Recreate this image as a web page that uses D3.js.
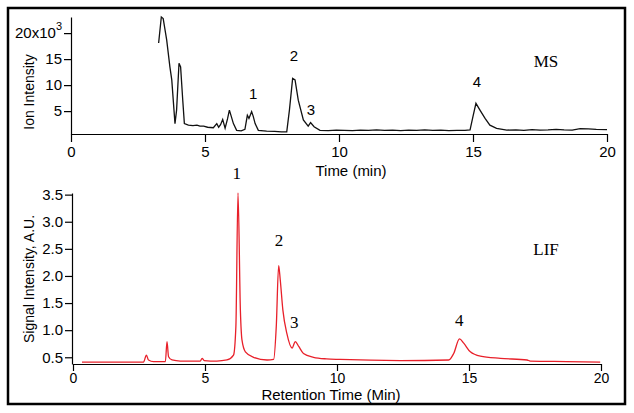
<!DOCTYPE html>
<html>
<head>
<meta charset="utf-8">
<script src="https://cdn.jsdelivr.net/npm/d3@7"></script>
<style>
  body { margin: 0; background: #fff; }
  svg { display: block; }
</style>
</head>
<body>
<svg id="chart" width="634" height="413"></svg>
<script>
// MS trace (time in min, ion intensity in thousands)
const msTime = [3.27, 3.37, 3.44, 3.57, 3.69, 3.76, 3.88, 3.94, 4.03, 4.09, 4.17, 4.23, 4.38, 4.55, 4.7, 4.81, 4.95, 5.1, 5.31,
  5.44, 5.51, 5.58, 5.66, 5.75, 5.84, 5.91, 5.98, 6.06, 6.18, 6.35, 6.49, 6.58, 6.64, 6.74, 6.8, 6.87, 6.99, 7.3, 7.6, 7.85,
  8.05, 8.15, 8.27, 8.36, 8.48, 8.67, 8.85, 8.94, 9.07, 9.29, 9.6, 9.9, 10.2, 10.5, 10.8, 11.1, 11.4, 11.7, 12.0, 12.3, 12.6,
  12.9, 13.2, 13.5, 13.8, 14.1, 14.4, 14.7, 14.89, 15.0, 15.11, 15.26, 15.45, 15.63, 15.88, 16.26, 16.6, 16.9, 17.2, 17.5,
  17.8, 18.1, 18.4, 18.7, 19.0, 19.3, 19.6, 20.0];
const msSignal = [18.1, 23.1, 22.8, 18.7, 13.5, 11.0, 2.6, 5.2, 14.2, 13.5, 7.1, 2.6, 2.3, 2.2, 2.3, 2.1, 2.1, 1.9, 1.8,
  2.6, 1.9, 2.4, 3.4, 1.7, 3.5, 5.2, 4.0, 2.6, 1.3, 1.2, 1.5, 4.2, 3.6, 4.9, 4.0, 2.6, 1.3, 1.15, 1.1, 1.0,
  1.0, 5.2, 11.3, 11.0, 7.1, 3.3, 2.1, 2.8, 2.0, 1.3, 1.25, 1.35, 1.3, 1.25, 1.35, 1.3, 1.4, 1.3, 1.35, 1.25, 1.35,
  1.3, 1.4, 1.3, 1.35, 1.25, 1.3, 1.3, 1.4, 4.0, 6.5, 5.2, 3.6, 2.3, 1.7, 1.35, 1.4, 1.3, 1.45, 1.35,
  1.4, 1.5, 1.4, 1.35, 1.65, 1.6, 1.5, 1.45];

// LIF trace (retention time in min, signal in A.U.)
const lifTime = [0.34, 1.3, 2.67, 2.78, 2.86, 3.05, 3.5, 3.56, 3.62, 3.75, 4.06, 4.82, 4.89, 4.97, 5.45, 5.83, 6.08, 6.17,
  6.25, 6.34, 6.4, 6.53, 6.84, 7.35, 7.6, 7.7, 7.79, 7.85, 7.95, 8.1, 8.3, 8.42, 8.55, 8.73, 9.11, 9.6, 10.12, 12.4,
  14.23, 14.42, 14.64, 14.8, 15.05, 15.43, 16.19, 17.2, 17.32, 18.7, 19.97];
const lifSignal = [0.41, 0.41, 0.41, 0.54, 0.45, 0.42, 0.42, 0.79, 0.51, 0.45, 0.43, 0.43, 0.48, 0.44, 0.43, 0.45, 0.54, 1.07,
  3.53, 1.37, 0.82, 0.6, 0.5, 0.45, 0.46, 1.07, 2.19, 1.93, 1.37, 0.94, 0.67, 0.79, 0.7, 0.57, 0.5, 0.47, 0.46, 0.44,
  0.45, 0.57, 0.84, 0.76, 0.6, 0.52, 0.48, 0.45, 0.43, 0.42, 0.41];

const xTicks = [0, 5, 10, 15, 20];
const msYTicks = [5, 10, 15, 20];
const lifYTicks = [0.5, 1.0, 1.5, 2.0, 2.5, 3.0, 3.5];

// peak labels: [name, time, value]
const msPeaks = [["1", 6.8, 7.3], ["2", 8.32, 14.6], ["3", 8.95, 4.3], ["4", 15.15, 9.7]];
const lifPeaks = [["1", 6.2, 3.78], ["2", 7.8, 2.55], ["3", 8.38, 1.04], ["4", 14.63, 1.08]];

const sans = "'Liberation Sans', Arial, sans-serif";
const serif = "'Liberation Serif', 'Times New Roman', serif";

const svg = d3.select("#chart");

svg.append("rect")
  .attr("x", 8).attr("y", 8)
  .attr("width", 617).attr("height", 396)
  .attr("fill", "none").attr("stroke", "#000").attr("stroke-width", 2.5);

// ---------- top panel (MS) ----------
const x1 = d3.scaleLinear().domain([0, 20]).range([71, 607]);
const y1 = d3.scaleLinear().domain([0.6, 23.1]).range([134, 17]);

let gx1 = svg.append("g")
  .attr("transform", "translate(0,134)")
  .call(d3.axisBottom(x1).tickValues(xTicks).tickSize(8).tickSizeOuter(0).tickPadding(4).tickFormat(d3.format("d")));

let gy1 = svg.append("g")
  .attr("transform", "translate(71,0)")
  .call(d3.axisLeft(y1).tickValues(msYTicks).tickSize(7).tickSizeOuter(0).tickPadding(2).tickFormat(d3.format("d")));

gy1.selectAll(".tick text").filter(d => d == 20)
  .text("20x10")
  .append("tspan").attr("dy", -8).text("3");

svg.append("path")
  .datum(msTime.map((t, i) => [t, msSignal[i]]))
  .attr("fill", "none")
  .attr("stroke", "#111")
  .attr("stroke-width", 1.3)
  .attr("d", d3.line().x(d => x1(d[0])).y(d => y1(d[1])));

svg.append("text")
  .attr("transform", "translate(34,92) rotate(-90)")
  .attr("text-anchor", "middle")
  .attr("font-family", sans).attr("font-size", 14)
  .text("Ion Intensity");

svg.append("text")
  .attr("x", 351).attr("y", 176)
  .attr("text-anchor", "middle")
  .attr("font-family", sans).attr("font-size", 15)
  .text("Time (min)");

svg.append("text")
  .attr("x", 546).attr("y", 67)
  .attr("text-anchor", "middle")
  .attr("font-family", serif).attr("font-size", 17)
  .text("MS");

svg.selectAll(".mspeak")
  .data(msPeaks)
  .enter().append("text")
  .attr("x", d => x1(d[1]))
  .attr("y", d => y1(d[2]))
  .attr("text-anchor", "middle")
  .attr("font-family", sans).attr("font-size", 15)
  .text(d => d[0]);

// ---------- bottom panel (LIF) ----------
const x2 = d3.scaleLinear().domain([0, 20]).range([73, 601]);
const y2 = d3.scaleLinear().domain([0.376, 3.53]).range([364, 193]);

let gx2 = svg.append("g")
  .attr("transform", "translate(0,364)")
  .call(d3.axisBottom(x2).tickValues(xTicks).tickSize(7).tickSizeOuter(0).tickPadding(2).tickFormat(d3.format("d")));

let gy2 = svg.append("g")
  .attr("transform", "translate(72,0)")
  .call(d3.axisLeft(y2).tickValues(lifYTicks).tickSize(7).tickSizeOuter(0).tickPadding(2).tickFormat(d3.format(".1f")));

svg.append("path")
  .datum(lifTime.map((t, i) => [t, lifSignal[i]]))
  .attr("fill", "none")
  .attr("stroke", "#e8202a")
  .attr("stroke-width", 1.3)
  .attr("d", d3.line().curve(d3.curveMonotoneX).x(d => x2(d[0])).y(d => y2(d[1])));

svg.append("text")
  .attr("transform", "translate(34,279) rotate(-90)")
  .attr("text-anchor", "middle")
  .attr("font-family", sans).attr("font-size", 14)
  .text("Signal Intensity, A.U.");

svg.append("text")
  .attr("x", 331).attr("y", 400)
  .attr("text-anchor", "middle")
  .attr("font-family", sans).attr("font-size", 15)
  .text("Retention Time (Min)");

svg.append("text")
  .attr("x", 546).attr("y", 255)
  .attr("text-anchor", "middle")
  .attr("font-family", serif).attr("font-size", 17)
  .text("LIF");

svg.selectAll(".lifpeak")
  .data(lifPeaks)
  .enter().append("text")
  .attr("x", d => x2(d[1]))
  .attr("y", d => y2(d[2]))
  .attr("text-anchor", "middle")
  .attr("font-family", serif).attr("font-size", 17)
  .text(d => d[0]);

// shared axis styling
[gx1, gy1, gx2, gy2].forEach(g => {
  g.selectAll("path, line").attr("stroke", "#000").attr("stroke-width", 1.2);
  g.selectAll("text").attr("font-family", sans).attr("font-size", 15).attr("fill", "#000");
});
gx2.selectAll("text").attr("font-size", 14);
gy1.selectAll("tspan").attr("font-size", 11);
</script>
</body>
</html>
